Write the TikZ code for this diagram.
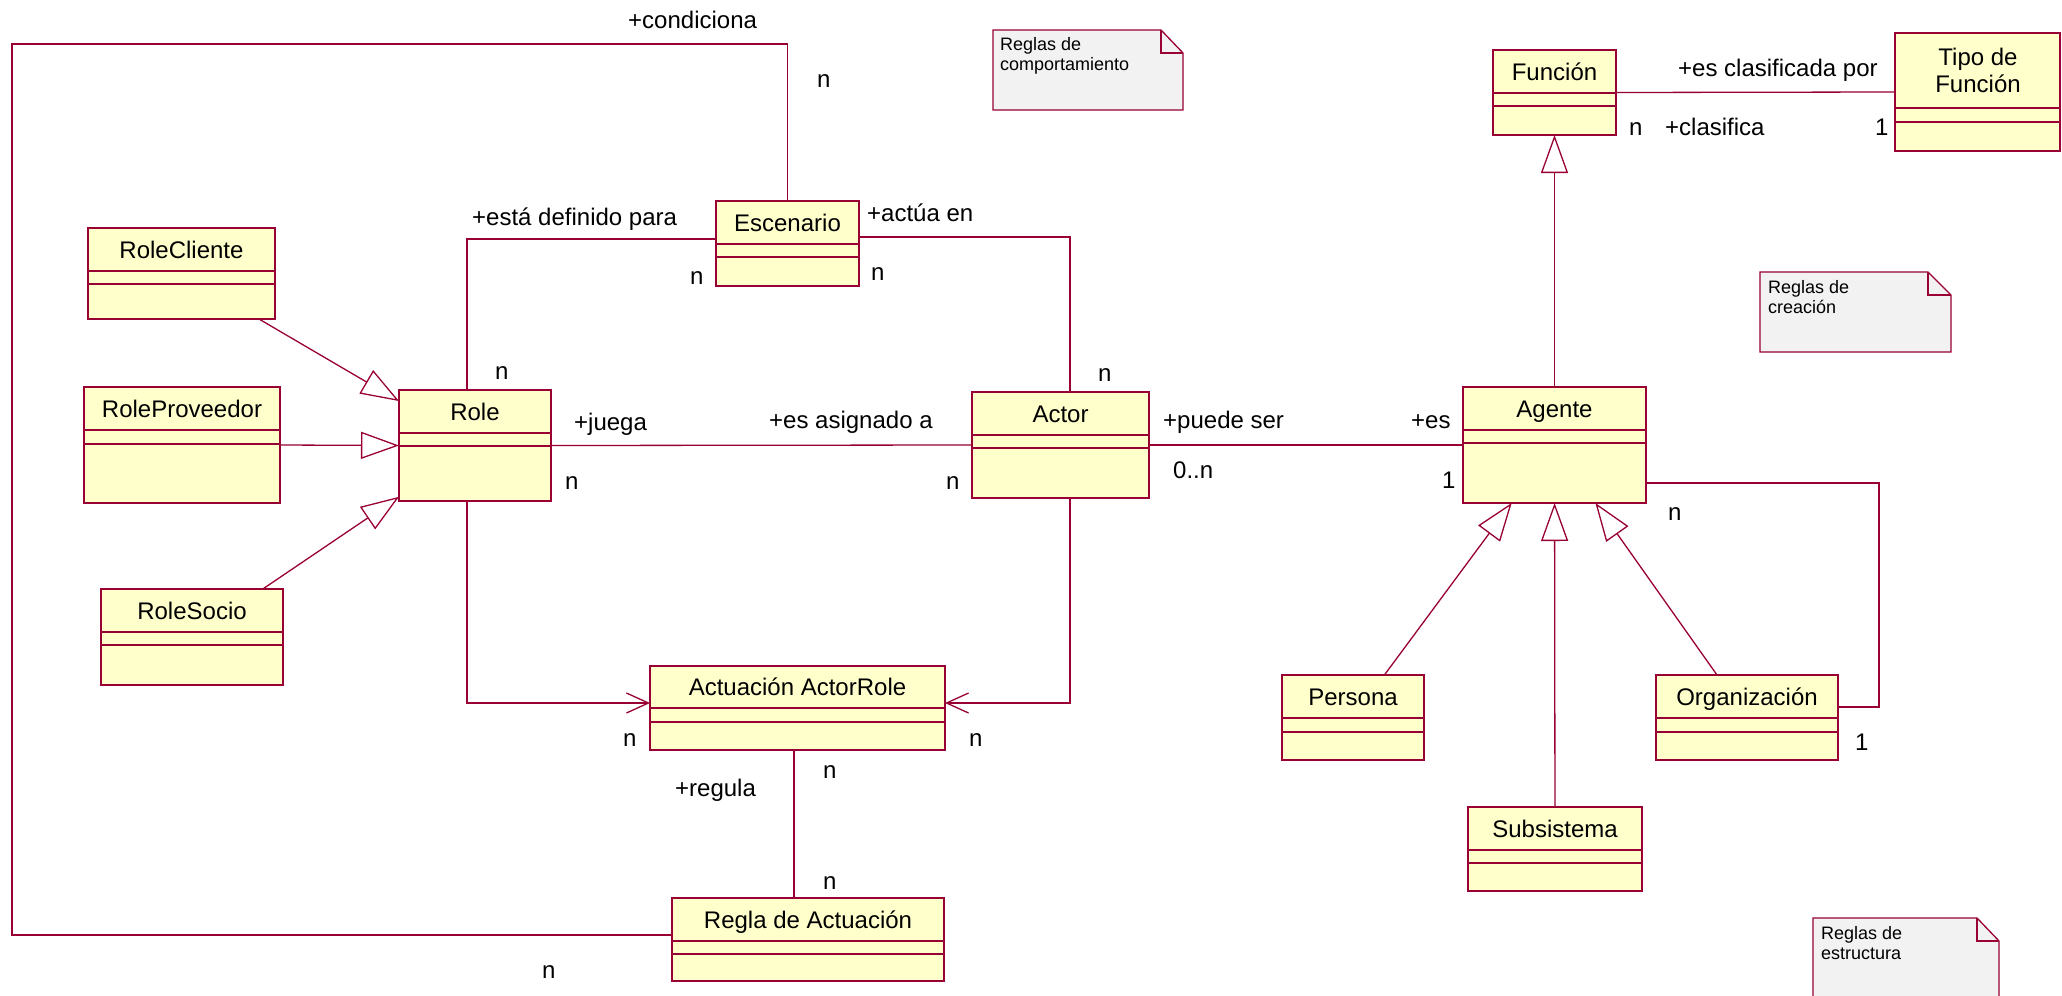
\documentclass[tikz,border=0pt]{standalone}
\usepackage{fontspec}
\setmainfont{Liberation Sans}
\usetikzlibrary{arrows.meta,calc}
\definecolor{umlline}{RGB}{153,0,51}
\definecolor{umlfill}{RGB}{255,255,204}
\definecolor{notefill}{RGB}{242,242,242}
\tikzset{
  classbox/.style={draw=umlline, fill=umlfill, line width=1.3pt, inner sep=0pt, outer sep=0pt, rectangle},
  cname/.style={font=\fontsize{24}{27}\selectfont, inner sep=0pt, text height=17pt, text depth=0pt},
  lbl/.style={font=\fontsize{24}{27}\selectfont, inner sep=0pt, text height=17pt, text depth=0pt, anchor=west},
  notetext/.style={font=\fontsize{18}{20}\selectfont, inner sep=0pt, anchor=north west, align=left},
  conn/.style={draw=umlline, line width=1.3pt},
  gen/.style={conn, -{Triangle[open, length=38pt, width=27pt]}},
  nav/.style={conn, -{Straight Barb[length=22pt, width=20pt]}},
  notebox/.style={draw=umlline, fill=notefill, line width=1.3pt},
}
\newcommand{\umlclass}[8]{%
  \node[classbox, anchor=north west, minimum width={(#4-#2)*1pt}, minimum height={(#5-#3)*1pt}] (#1) at (#2,#3) {};
  \draw[umlline, line width=1.3pt] (#2,#6) -- (#4,#6) (#2,#7) -- (#4,#7);
  \node[cname] (#1-name) at ({(#2+#4)/2},{(#3+#6)/2}) {#8};
}
\begin{document}
\begin{tikzpicture}[x=1pt,y=-1pt]
\path[use as bounding box, fill=white] (0,0) rectangle (2062,996);

% classes
\umlclass{rolecliente}{88}{228}{275}{319}{271}{284}{RoleCliente}
\umlclass{roleprov}{84}{387}{280}{503}{430}{444}{RoleProveedor}
\umlclass{rolesocio}{101}{589}{283}{685}{632}{645}{RoleSocio}
\umlclass{role}{399}{390}{551}{501}{433}{446}{Role}
\umlclass{escenario}{716}{201}{859}{286}{244}{257}{Escenario}
\umlclass{actor}{972}{392}{1149}{498}{435}{448}{Actor}
\umlclass{actuacion}{650}{666}{945}{750}{708}{722}{Actuación ActorRole}
\umlclass{regla}{672}{898}{944}{981}{941}{954}{Regla de Actuación}
\umlclass{funcion}{1493}{50}{1616}{135}{93}{106}{Función}
\umlclass{agente}{1463}{387}{1646}{503}{430}{443}{Agente}
\umlclass{persona}{1282}{675}{1424}{760}{718}{732}{Persona}
\umlclass{organizacion}{1656}{675}{1838}{760}{718}{732}{Organización}
\umlclass{subsistema}{1468}{807}{1642}{891}{850}{863}{Subsistema}
\node[classbox, anchor=north west, minimum width=165pt, minimum height=118pt] (tipo) at (1895,33) {};
\draw[umlline, line width=1.3pt] (1895,108) -- (2060,108) (1895,122) -- (2060,122);
\node[font=\fontsize{24}{27}\selectfont, align=center, inner sep=0pt] (tipo-name) at (1978,70) {Tipo de\\Función};

% notes
\draw[notebox] (993,30) -- (1161,30) -- (1183,53) -- (1183,110) -- (993,110) -- cycle;
\draw[conn] (1161,30) -- (1161,53) -- (1183,53);
\node[notetext] (note1) at (1000,37) {Reglas de\\comportamiento};
\draw[notebox] (1760,272) -- (1928,272) -- (1951,295) -- (1951,352) -- (1760,352) -- cycle;
\draw[conn] (1928,272) -- (1928,295) -- (1951,295);
\node[notetext] (note2) at (1768,280) {Reglas de\\creación};
\draw[notebox] (1813,918) -- (1977,918) -- (1999,941) -- (1999,1003) -- (1813,1003) -- cycle;
\draw[conn] (1977,918) -- (1977,941) -- (1999,941);
\node[notetext] (note3) at (1821,926) {Reglas de\\estructura};

% generalizations
\draw[gen] (rolecliente) -- (role);
\draw[gen] (roleprov.east) -- (role.west);
\draw[gen] (rolesocio) -- (role);
\draw[gen] (persona) -- (agente);
\draw[gen] (organizacion) -- (agente);
\draw[gen] (subsistema) -- (agente);
\draw[gen] (agente) -- (funcion);

% associations
\draw[conn] (role.east) -- (actor.west);
\draw[conn] (actor.east) -- (agente.west);
\draw[conn] (funcion.east) -- (tipo.west);
\draw[conn] ($(role.north)+(-8,0)$) |- ($(escenario.west)+(0,-4.5)$);
\draw[conn] ($(escenario.east)+(0,-6.5)$) -| ($(actor.north)+(9.5,0)$);
\draw[nav] ($(role.south)+(-8,0)$) |- ($(actuacion.west)+(0,-5)$);
\draw[nav] ($(actor.south)+(9.5,0)$) |- ($(actuacion.east)+(0,-5)$);
\draw[conn] ($(actuacion.south)+(-3.5,0)$) -- ($(regla.north)+(-14,0)$);
\coordinate (loopTL) at (12,44);
\draw[conn] ($(regla.west)+(0,-4.5)$) -| (loopTL) -| (escenario.north);
\coordinate (orgloop) at (1879,483);
\draw[conn] ($(agente.east)+(0,38)$) -- (orgloop) |- ($(organizacion.east)+(0,-10.5)$);

% labels
\node[lbl] (l1) at (628,20) {+condiciona};
\node[lbl] (l2) at (817,79) {n};
\node[lbl] (l3) at (472,217) {+está definido para};
\node[lbl] (l4) at (867,213) {+actúa en};
\node[lbl] (l5) at (690,276) {n};
\node[lbl] (l6) at (871,272) {n};
\node[lbl] (l7) at (495,371) {n};
\node[lbl] (l8) at (574,422) {+juega};
\node[lbl] (l9) at (565,481) {n};
\node[lbl] (l10) at (769,420) {+es asignado a};
\node[lbl] (l11) at (946,481) {n};
\node[lbl] (l12) at (1098,373) {n};
\node[lbl] (l13) at (1163,420) {+puede ser};
\node[lbl] (l14) at (1173,470) {0..n};
\node[lbl] (l15) at (1411,420) {+es};
\node[lbl] (l16) at (1442,480) {1};
\node[lbl] (l17) at (1668,512) {n};
\node[lbl] (l18) at (1678,68) {+es clasificada por};
\node[lbl] (l19) at (1629,127) {n};
\node[lbl] (l20) at (1665,127) {+clasifica};
\node[lbl] (l21) at (1875,127) {1};
\node[lbl] (l22) at (1855,742) {1};
\node[lbl] (l23) at (623,738) {n};
\node[lbl] (l24) at (969,738) {n};
\node[lbl] (l25) at (823,770) {n};
\node[lbl] (l26) at (675,788) {+regula};
\node[lbl] (l27) at (823,881) {n};
\node[lbl] (l28) at (542,970) {n};
\end{tikzpicture}
\end{document}
